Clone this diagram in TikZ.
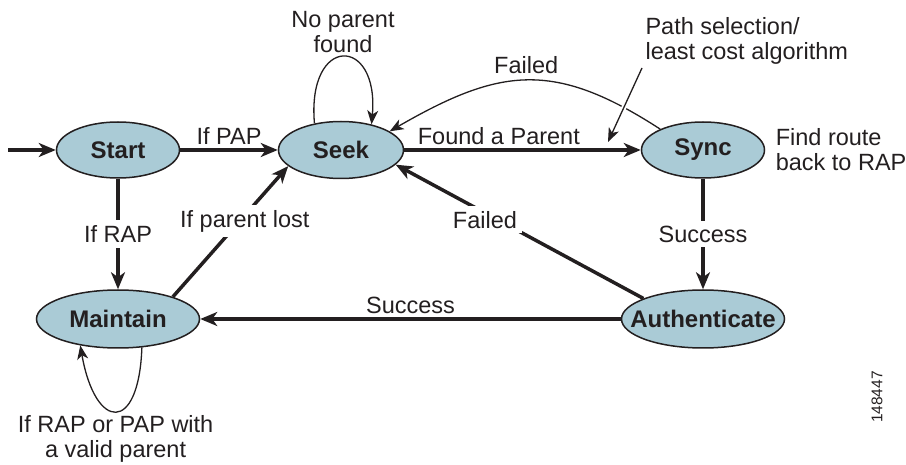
\documentclass[tikz,border=0pt]{standalone}
\usepackage{fontspec}
\setmainfont{Liberation Sans}
\usepackage{xcolor}
\usetikzlibrary{positioning,arrows.meta,shapes}
\definecolor{statefill}{RGB}{170,203,214}
\definecolor{ink}{RGB}{35,31,32}

\begin{document}
\begin{tikzpicture}[x=1pt,y=1pt,
        every node/.style={font=\fontsize{23.5}{25}\selectfont,text=ink},
        state/.style={ellipse,draw=ink,line width=1.5pt,fill=statefill,inner sep=0pt,
            minimum width=123pt,minimum height=56pt,font=\fontsize{24}{25}\selectfont\bfseries},
        trans/.style={draw=ink,line width=3.5pt,-{Stealth[length=17pt,width=14pt,inset=5pt]}},
        thin trans/.style={draw=ink,line width=1.3pt,-{Stealth[length=14pt,width=11pt,inset=4pt]}},
        cut/.style={fill=white,inner sep=5pt}]
        \useasboundingbox (0,0) rectangle (906,464);
        \node[state] (start) at (118,314) {Start};
        \node[state,minimum width=125pt,minimum height=57pt] (seek) at (341,314) {Seek};
        \node[state] (sync) at (703,314) {Sync};
        \node[state,minimum width=163pt,minimum height=58pt] (maint) at (118,145) {Maintain};
        \node[state,minimum width=163pt,minimum height=58pt] (auth) at (703,145) {\makebox[0pt]{Authenticate}};
        \coordinate (entry) at (8,314);
        \draw[trans] (entry) -- (start);
        \draw[trans] (start) -- node[above]{If PAP} (seek);
        \draw[trans] (seek) -- node[above,pos=0.4]{Found a Parent} (sync);
        \draw[trans] (start) -- node[cut]{If RAP} (maint);
        \draw[trans] (sync) -- node[cut]{Success} (auth);
        \draw[trans] (auth) -- node[above]{Success} (maint);
        \draw[trans] (maint.22) -- node[cut,pos=0.58,xshift=5pt]{If parent lost} (seek.197);
        \draw[trans] (auth.161) -- node[cut,pos=0.64,yshift=-7pt]{Failed} (seek.345);
        % thin transitions
        \draw[thin trans] (sync.154) to[out=147,in=30,looseness=1.2] node[above=3pt]{Failed} (seek.21);
        \draw[thin trans] (seek.135) to[out=95,in=85,looseness=4]
            node[above,align=center]{No parent\\found} (seek.40);
        \draw[thin trans] (maint.310) to[out=-92,in=-80,looseness=3.6]
            node[below,align=center]{If RAP or PAP with\\a valid parent} (maint.215);
        % notes
        \node[anchor=west,align=left] (pathsel) at (642,423) {Path selection/\\least cost algorithm};
        \node[right=7pt of sync,align=left] (findroute) {Find route\\back to RAP};
        \coordinate (seltip) at (608,322);
        \draw[white,line width=5pt,shorten <=4pt,shorten >=6pt] (pathsel.south west) -- (seltip);
        \draw[thin trans] (pathsel.south west) -- (seltip);
        \node[rotate=90,font=\fontsize{15.5}{18}\selectfont] (fignum) at (877,67) {148447};
    \end{tikzpicture}
\end{document}
